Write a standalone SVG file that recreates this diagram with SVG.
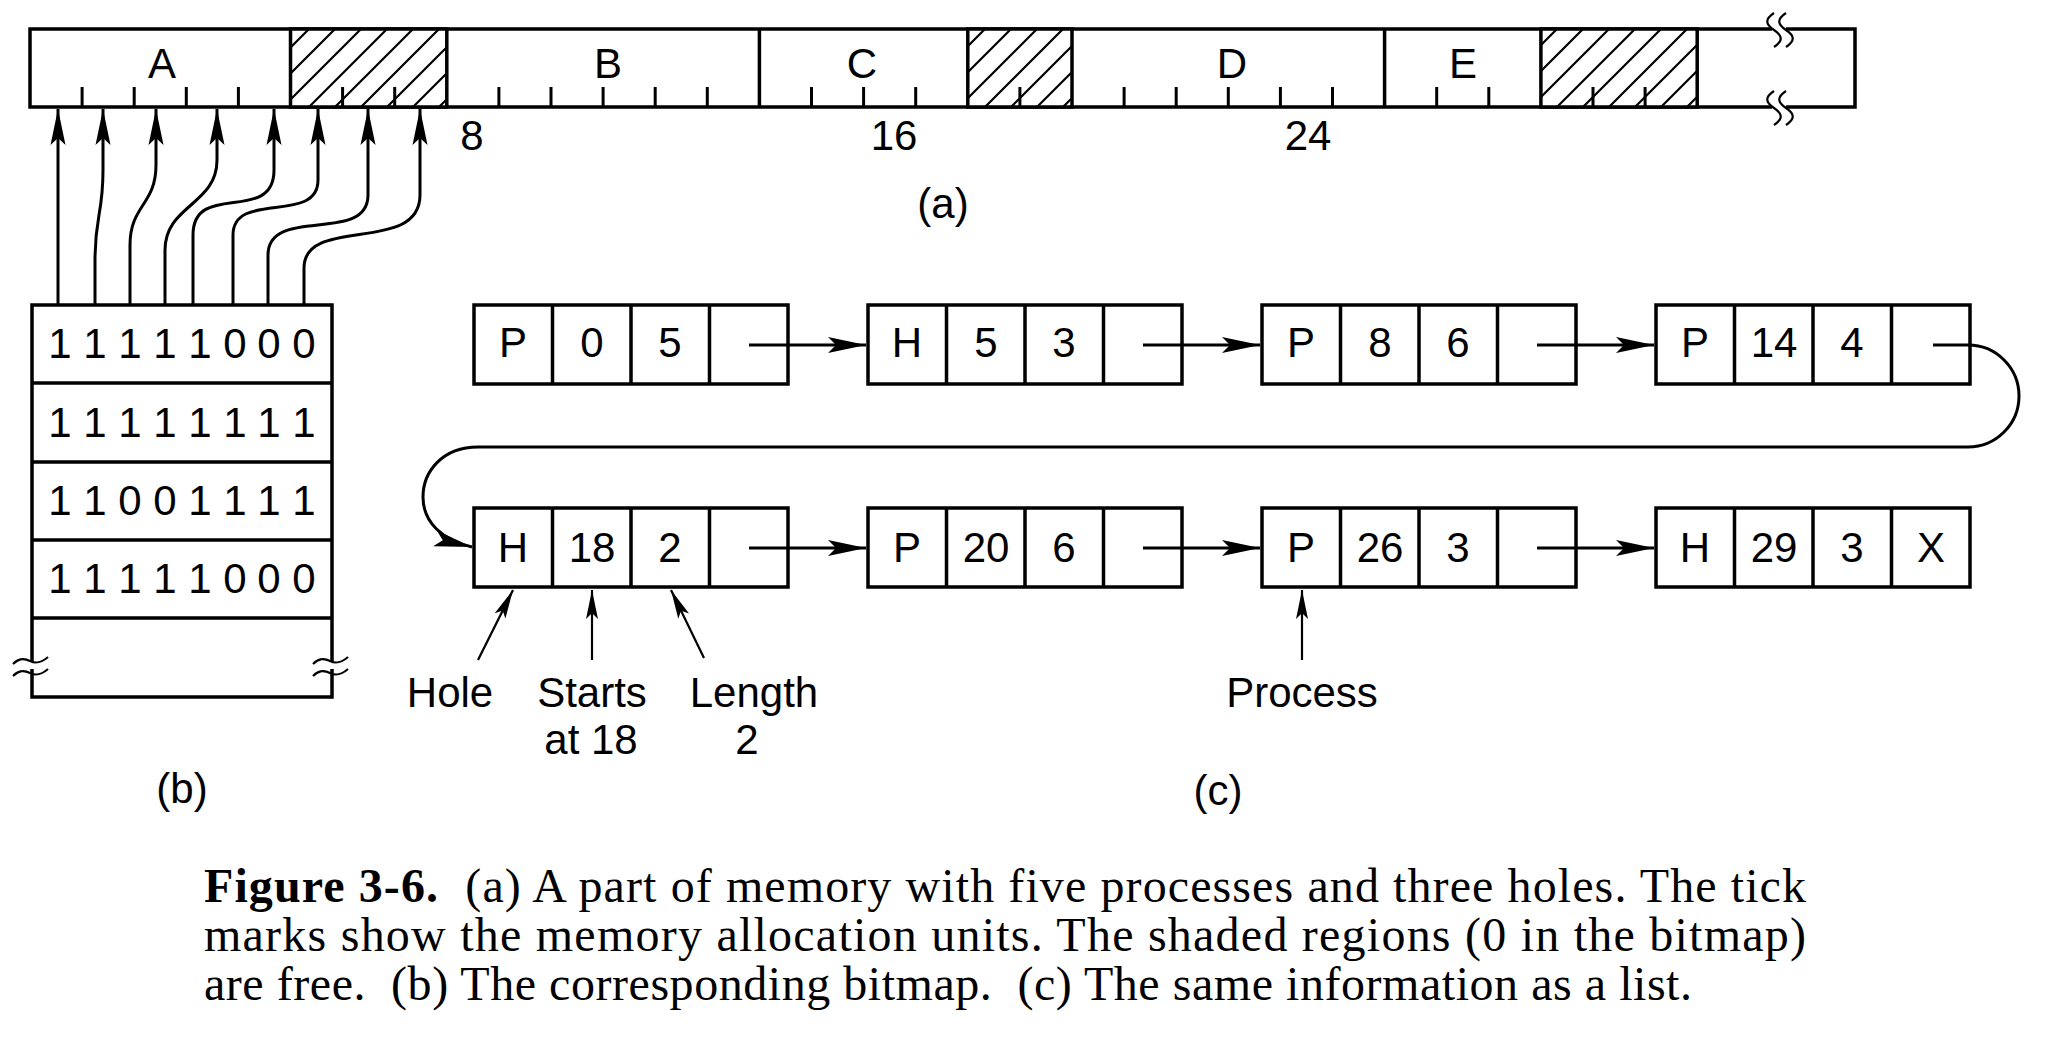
<svg xmlns="http://www.w3.org/2000/svg" width="2058" height="1046" viewBox="0 0 2058 1046">
<style>
.sans{font-family:"Liberation Sans",Arial,sans-serif;font-size:42px;fill:#000}
.mid{text-anchor:middle}
.cap{font-family:"Liberation Serif","Times New Roman",serif;font-size:48px;fill:#000}
.box{fill:#fff;stroke:#000;stroke-width:3.5}
.ln{fill:none;stroke:#000;stroke-width:3.5}
.con{fill:none;stroke:#000;stroke-width:3}
.thin{fill:none;stroke:#000;stroke-width:2.2}
.hatch{fill:url(#hp);stroke:#000;stroke-width:3.5}
</style>
<defs>
<pattern id="hp" patternUnits="userSpaceOnUse" width="26" height="26">
<rect width="26" height="26" fill="#fff"/>
<path d="M-2,28 L28,-2 M-15,15 L15,-15 M11,41 L41,11" stroke="#000" stroke-width="2.2"/>
</pattern>
<marker id="ah" markerUnits="userSpaceOnUse" markerWidth="40" markerHeight="20" refX="38" refY="9" orient="auto" viewBox="0 0 40 18">
<path d="M38,9 L2,1.5 L9,9 L2,16.5 Z" fill="#000"/>
</marker>
<marker id="ah2" markerUnits="userSpaceOnUse" markerWidth="42" markerHeight="20" refX="40" refY="9" orient="auto" viewBox="0 0 42 18">
<path d="M40,9 L2,1 L10,9 L2,17 Z" fill="#000"/>
</marker>
<marker id="ah3" markerUnits="userSpaceOnUse" markerWidth="32" markerHeight="16" refX="30" refY="7" orient="auto" viewBox="0 0 32 14">
<path d="M30,7 L1,1 L7,7 L1,13 Z" fill="#000"/>
</marker>
</defs>
<rect width="2058" height="1046" fill="#fff"/>

<g id="memory-bar">
<rect x="30" y="29" width="1825" height="78" class="box"/>
<rect x="290.5" y="29" width="156.3" height="78" class="hatch"/>
<rect x="967.8" y="29" width="104.2" height="78" class="hatch"/>
<rect x="1540.9" y="29" width="156.3" height="78" class="hatch"/>
<path class="ln" d="M759.4,29V107 M1384.6,29V107"/>
<path class="con" stroke-width="2.5" d="M82.1,87V107 M134.2,87V107 M186.3,87V107 M238.4,87V107 M342.6,87V107 M394.7,87V107 M498.9,87V107 M551,87V107 M603.1,87V107 M655.2,87V107 M707.3,87V107 M811.5,87V107 M863.6,87V107 M915.7,87V107 M1019.9,87V107 M1124.1,87V107 M1176.2,87V107 M1228.3,87V107 M1280.4,87V107 M1332.5,87V107 M1436.7,87V107 M1488.8,87V107 M1593,87V107 M1645.1,87V107"/>
<rect x="1772" y="24" width="14" height="10" fill="#fff"/>
<rect x="1772" y="102" width="14" height="10" fill="#fff"/>
<path class="thin" d="M1774,13 c-9,6 -9,11 0,17 s9,11 0,17 M1786,13 c-9,6 -9,11 0,17 s9,11 0,17 M1774,91 c-9,6 -9,11 0,17 s9,11 0,17 M1786,91 c-9,6 -9,11 0,17 s9,11 0,17"/>
<text class="sans mid" x="162" y="78">A</text>
<text class="sans mid" x="608" y="78">B</text>
<text class="sans mid" x="862" y="78">C</text>
<text class="sans mid" x="1232" y="78">D</text>
<text class="sans mid" x="1463" y="78">E</text>
<text class="sans mid" x="472" y="150">8</text>
<text class="sans mid" x="894" y="150">16</text>
<text class="sans mid" x="1308" y="150">24</text>
<text class="sans mid" x="943" y="218">(a)</text>
</g>

<g id="bitmap">
<path class="ln" d="M32,618 V305 H332 V618 M32,383 H332 M32,462 H332 M32,540 H332 M32,618 H332 M32,618 V697 H332 V618"/>
<rect x="24" y="662" width="16" height="7" fill="#fff"/>
<rect x="324" y="662" width="16" height="7" fill="#fff"/>
<path class="thin" d="M13,664 c6,-6 11,-6 17,-3 s11,2 18,-4 M13,676 c6,-6 11,-6 17,-3 s11,2 18,-4 M313,664 c6,-6 11,-6 17,-3 s11,2 18,-4 M313,676 c6,-6 11,-6 17,-3 s11,2 18,-4"/>
<text class="sans mid" x="60 95 130 165 200 235 269 304" y="358">11111000</text>
<text class="sans mid" x="60 95 130 165 200 235 269 304" y="437">11111111</text>
<text class="sans mid" x="60 95 130 165 200 235 269 304" y="515">11001111</text>
<text class="sans mid" x="60 95 130 165 200 235 269 304" y="593">11111000</text>
<text class="sans mid" x="182" y="803">(b)</text>
</g>

<g id="bitmap-arrows">
<path class="con" marker-end="url(#ah)" d="M58,305 V109"/>
<path class="con" marker-end="url(#ah)" d="M95,305 V260 C95,215 103,215 103,170 V109"/>
<path class="con" marker-end="url(#ah)" d="M130,305 V245 C130,205 156,205 156,165 V109"/>
<path class="con" marker-end="url(#ah)" d="M165,305 V250 C165,205 217,205 217,160 V109"/>
<path class="con" marker-end="url(#ah)" d="M193,305 V235 C193,180 274,225 274,170 V109"/>
<path class="con" marker-end="url(#ah)" d="M233,305 V235 C233,190 318,225 318,180 V109"/>
<path class="con" marker-end="url(#ah)" d="M268,305 V255 C268,205 368,245 368,195 V109"/>
<path class="con" marker-end="url(#ah)" d="M304,305 V268 C304,215 420,255 420,195 V109"/>
</g>

<g id="list-P-0-5">
<rect x="474" y="305" width="314" height="79" class="box"/>
<path class="ln" d="M552.5,305V384 M631,305V384 M709.5,305V384"/>
<text class="sans mid" x="513" y="357">P</text><text class="sans mid" x="592" y="357">0</text><text class="sans mid" x="670" y="357">5</text>
</g>
<g id="list-H-5-3">
<rect x="868" y="305" width="314" height="79" class="box"/>
<path class="ln" d="M946.5,305V384 M1025,305V384 M1103.5,305V384"/>
<text class="sans mid" x="907" y="357">H</text><text class="sans mid" x="986" y="357">5</text><text class="sans mid" x="1064" y="357">3</text>
</g>
<g id="list-P-8-6">
<rect x="1262" y="305" width="314" height="79" class="box"/>
<path class="ln" d="M1340.5,305V384 M1419,305V384 M1497.5,305V384"/>
<text class="sans mid" x="1301" y="357">P</text><text class="sans mid" x="1380" y="357">8</text><text class="sans mid" x="1458" y="357">6</text>
</g>
<g id="list-P-14-4">
<rect x="1656" y="305" width="314" height="79" class="box"/>
<path class="ln" d="M1734.5,305V384 M1813,305V384 M1891.5,305V384"/>
<text class="sans mid" x="1695" y="357">P</text><text class="sans mid" x="1774" y="357">14</text><text class="sans mid" x="1852" y="357">4</text>
</g>
<g id="list-H-18-2">
<rect x="474" y="508" width="314" height="79" class="box"/>
<path class="ln" d="M552.5,508V587 M631,508V587 M709.5,508V587"/>
<text class="sans mid" x="513" y="562">H</text><text class="sans mid" x="592" y="562">18</text><text class="sans mid" x="670" y="562">2</text>
</g>
<g id="list-P-20-6">
<rect x="868" y="508" width="314" height="79" class="box"/>
<path class="ln" d="M946.5,508V587 M1025,508V587 M1103.5,508V587"/>
<text class="sans mid" x="907" y="562">P</text><text class="sans mid" x="986" y="562">20</text><text class="sans mid" x="1064" y="562">6</text>
</g>
<g id="list-P-26-3">
<rect x="1262" y="508" width="314" height="79" class="box"/>
<path class="ln" d="M1340.5,508V587 M1419,508V587 M1497.5,508V587"/>
<text class="sans mid" x="1301" y="562">P</text><text class="sans mid" x="1380" y="562">26</text><text class="sans mid" x="1458" y="562">3</text>
</g>
<g id="list-H-29-3">
<rect x="1656" y="508" width="314" height="79" class="box"/>
<path class="ln" d="M1734.5,508V587 M1813,508V587 M1891.5,508V587"/>
<text class="sans mid" x="1695" y="562">H</text><text class="sans mid" x="1774" y="562">29</text><text class="sans mid" x="1852" y="562">3</text><text class="sans mid" x="1931" y="562">X</text>
</g>

<g id="list-connectors">
<path class="con" marker-end="url(#ah2)" d="M749,345 H866"/>
<path class="con" marker-end="url(#ah2)" d="M1143,345 H1260"/>
<path class="con" marker-end="url(#ah2)" d="M1537,345 H1654"/>
<path class="con" marker-end="url(#ah2)" d="M1933,345 H1968 A51,51 0 0 1 1968,447 H478 C442,447 423,472 423,497 C423,522 442,540 472,547"/>
<path class="con" marker-end="url(#ah2)" d="M749,548 H866"/>
<path class="con" marker-end="url(#ah2)" d="M1143,548 H1260"/>
<path class="con" marker-end="url(#ah2)" d="M1537,548 H1654"/>
<path class="thin" marker-end="url(#ah3)" d="M478,660 L513,590"/>
<path class="thin" marker-end="url(#ah3)" d="M592,660 V590"/>
<path class="thin" marker-end="url(#ah3)" d="M704,658 L671,590"/>
<path class="thin" marker-end="url(#ah3)" d="M1302,660 V590"/>
</g>

<g id="list-labels">
<text class="sans mid" x="450" y="707">Hole</text>
<text class="sans mid" x="592" y="707">Starts</text>
<text class="sans mid" x="591" y="754">at 18</text>
<text class="sans mid" x="754" y="707">Length</text>
<text class="sans mid" x="747" y="754">2</text>
<text class="sans mid" x="1302" y="707">Process</text>
<text class="sans mid" x="1218" y="805">(c)</text>
</g>

<g id="caption">
<text class="cap" x="204" y="902" textLength="1602" lengthAdjust="spacing" xml:space="preserve"><tspan font-weight="bold">Figure 3-6.</tspan>  (a) A part of memory with five processes and three holes. The tick</text>
<text class="cap" x="204" y="951" textLength="1602" lengthAdjust="spacing">marks show the memory allocation units. The shaded regions (0 in the bitmap)</text>
<text class="cap" x="204" y="1000" textLength="1488" lengthAdjust="spacing" xml:space="preserve">are free.  (b) The corresponding bitmap.  (c) The same information as a list.</text>
</g>
</svg>
